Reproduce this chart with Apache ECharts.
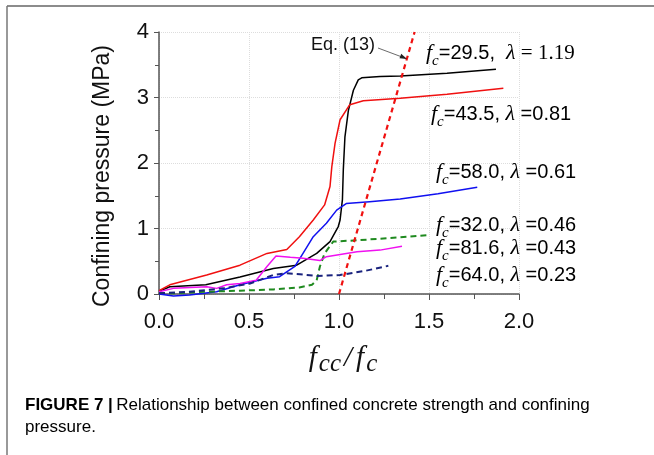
<!DOCTYPE html>
<html>
<head>
<meta charset="utf-8">
<script src="https://cdn.jsdelivr.net/npm/echarts/dist/echarts.min.js"></script>
<style>
  html, body { margin: 0; padding: 0; background: #fff; }
  #chart { width: 654px; height: 455px; }
</style>
</head>
<body>
<div id="chart"></div>
<script>
// fcc/fc (x) vs confining pressure in MPa (y)
const black_x = [0, 0.06, 0.26, 0.45, 0.635, 0.765, 0.876, 0.95, 0.996, 1.006, 1.019, 1.024, 1.033, 1.052, 1.08, 1.107, 1.126, 1.228, 1.34, 1.6, 1.872];
const black_y = [0.04, 0.11, 0.14, 0.26, 0.39, 0.44, 0.62, 0.8, 1.03, 1.13, 1.44, 1.9, 2.4, 2.8, 3.11, 3.27, 3.3, 3.32, 3.33, 3.37, 3.43];

const red_x = [0, 0.06, 0.265, 0.45, 0.6, 0.71, 0.78, 0.857, 0.92, 0.95, 0.96, 0.978, 1.006, 1.06, 1.135, 1.34, 1.6, 1.913];
const red_y = [0.05, 0.14, 0.29, 0.44, 0.62, 0.68, 0.875, 1.13, 1.36, 1.64, 1.94, 2.3, 2.66, 2.89, 2.95, 2.99, 3.05, 3.14];

const blue_x = [0, 0.08, 0.17, 0.32, 0.45, 0.6, 0.67, 0.755, 0.8, 0.857, 0.93, 0.987, 1.04, 1.17, 1.34, 1.55, 1.768];
const blue_y = [0, -0.03, -0.015, 0.035, 0.14, 0.24, 0.265, 0.42, 0.62, 0.875, 1.08, 1.28, 1.38, 1.41, 1.45, 1.53, 1.63];

const green_x = [0, 0.08, 0.265, 0.45, 0.635, 0.78, 0.85, 0.876, 0.894, 0.92, 0.968, 1.1, 1.34, 1.506];
const green_y = [0.02, 0.01, 0.035, 0.05, 0.07, 0.1, 0.14, 0.21, 0.42, 0.62, 0.8, 0.82, 0.865, 0.9];

const magenta_x = [0, 0.08, 0.265, 0.32, 0.376, 0.45, 0.54, 0.6, 0.65, 0.73, 0.8, 0.894, 0.93, 1.1, 1.228, 1.35];
const magenta_y = [0.035, 0.086, 0.11, 0.086, 0.14, 0.16, 0.21, 0.42, 0.58, 0.56, 0.545, 0.51, 0.57, 0.646, 0.67, 0.73];

const navy_x = [0, 0.17, 0.357, 0.506, 0.635, 0.71, 0.783, 0.876, 1.006, 1.15, 1.274];
const navy_y = [0.01, 0.035, 0.086, 0.16, 0.29, 0.315, 0.3, 0.275, 0.29, 0.356, 0.43];

const eq13_x = [1.0, 1.42];
const eq13_y = [0, 4];

// labels next to curves: [fc, lambda]
const fc_vals = ["29.5", "43.5", "58.0", "32.0", "81.6", "64.0"];
const lambda_vals = ["1.19", "0.81", "0.61", "0.46", "0.43", "0.23"];

const pair = (xs, ys) => xs.map((v, i) => [v, ys[i]]);

const chart = echarts.init(document.getElementById("chart"));

const SANS = "Liberation Sans";
const SERIF = "Liberation Serif";

function lineSeries(name, xs, ys, color, type) {
  return {
    name: name,
    type: "line",
    data: pair(xs, ys),
    showSymbol: false,
    clip: false,
    smooth: false,
    lineStyle: { color: color, width: type == "solid" ? 1.5 : 2, type: type == "solid" ? "solid" : [6, 4] },
    z: 3
  };
}

const richLabel = {
  f: { fontFamily: SERIF, fontStyle: "italic", fontSize: 22, lineHeight: 24, verticalAlign: "top", color: "#111" },
  c: { fontFamily: SERIF, fontStyle: "italic", fontSize: 15, lineHeight: 15, padding: [12, 0, 0, 0], verticalAlign: "top", color: "#111" },
  t: { fontFamily: SANS, fontSize: 20, lineHeight: 24, verticalAlign: "top", color: "#111", padding: [1, 0, 0, 0] },
  l: { fontFamily: SERIF, fontStyle: "italic", fontSize: 22, lineHeight: 24, verticalAlign: "top", color: "#111" },
  s: { fontFamily: SERIF, fontSize: 21, lineHeight: 24, verticalAlign: "top", color: "#111", padding: [1, 0, 0, 0] }
};

// label anchor positions (left, top) in px
const labelPos = [[426, 42], [431, 103], [436, 161], [436, 214], [436, 237], [436, 264]];

const labels = fc_vals.map((fc, i) => ({
  type: "text",
  left: labelPos[i][0],
  top: labelPos[i][1],
  style: {
    text: i == 0
      ? `{f|f}{c|c}{t|=${fc},  }{l|λ}{s| = ${lambda_vals[i]}}`
      : `{f|f}{c|c}{t|=${fc}, }{l|λ}{t| =${lambda_vals[i]}}`,
    rich: richLabel
  },
  z: 10
}));

chart.setOption({
  animation: false,
  backgroundColor: "#fff",
  grid: { left: 159, right: 135, top: 32, bottom: 161 },
  xAxis: {
    type: "value",
    min: 0,
    max: 2,
    interval: 0.5,
    name: "{f|f}{c|cc}{s|/}{f|f}{c|c}",
    nameLocation: "middle",
    nameGap: 50,
    nameTextStyle: {
      padding: [0, 0, 0, 8],
      rich: {
        f: { fontFamily: SERIF, fontStyle: "italic", fontSize: 29, lineHeight: 30, verticalAlign: "top", color: "#111" },
        s: { fontFamily: SERIF, fontStyle: "italic", fontSize: 29, lineHeight: 30, verticalAlign: "top", color: "#111", padding: [0, 4, 0, 3] },
        c: { fontFamily: SERIF, fontStyle: "italic", fontSize: 25, lineHeight: 25, padding: [8, 0, 0, 2], verticalAlign: "top", color: "#111" }
      }
    },
    axisLine: { lineStyle: { color: "#555", width: 1.5 } },
    axisTick: { show: true, inside: false, length: 6, lineStyle: { color: "#555" } },
    minorTick: { show: true, splitNumber: 2, length: 5, lineStyle: { color: "#555" } },
    axisLabel: { fontFamily: SANS, fontSize: 22, color: "#111", margin: 17, formatter: v => v.toFixed(1) },
    splitLine: { show: true, lineStyle: { color: "#ddd", type: "dotted", width: 1 } }
  },
  yAxis: {
    type: "value",
    min: 0,
    max: 4,
    interval: 1,
    axisLine: { show: true, lineStyle: { color: "#555", width: 1.5 } },
    axisTick: { show: true, inside: false, length: 5, lineStyle: { color: "#555" } },
    minorTick: { show: true, splitNumber: 2, length: 4, lineStyle: { color: "#555" } },
    axisLabel: { fontFamily: SANS, fontSize: 22, color: "#111", margin: 10 },
    splitLine: { show: true, lineStyle: { color: "#ddd", type: "dotted", width: 1 } }
  },
  series: [
    lineSeries("29.5", black_x, black_y, "#000000", "solid"),
    lineSeries("43.5", red_x, red_y, "#f01010", "solid"),
    lineSeries("58.0", blue_x, blue_y, "#1010f0", "solid"),
    lineSeries("32.0", green_x, green_y, "#1f8a1f", "dashed"),
    lineSeries("81.6", magenta_x, magenta_y, "#f010f0", "solid"),
    lineSeries("64.0", navy_x, navy_y, "#1a237e", "dashed"),
    {
      name: "Eq. (13)",
      type: "line",
      data: pair(eq13_x, eq13_y),
      showSymbol: false,
      clip: false,
      lineStyle: { color: "#f01010", width: 2.2, type: [5, 4] },
      z: 4
    }
  ],
  graphic: [
    // figure frame
    { type: "line", shape: { x1: 7, y1: 6, x2: 654, y2: 6 }, style: { stroke: "#666", lineWidth: 1.5 } },
    { type: "line", shape: { x1: 7, y1: 6, x2: 7, y2: 455 }, style: { stroke: "#777", lineWidth: 1.5 } },
    // y axis title
    {
      type: "text",
      x: 103,
      y: 176,
      rotation: Math.PI / 2,
      style: { text: "Confining pressure (MPa)", fontFamily: SANS, fontSize: 23, fill: "#111", align: "center", verticalAlign: "middle" }
    },
    // Eq. (13) callout
    { type: "text", left: 311, top: 36, style: { text: "Eq. (13)", fontFamily: SANS, fontSize: 18, fill: "#111" }, z: 10 },
    { type: "line", shape: { x1: 378, y1: 48, x2: 406, y2: 58.5 }, style: { stroke: "#444", lineWidth: 0.8 }, z: 10 },
    { type: "polygon", shape: { points: [[407, 59], [399.5, 58.2], [401.2, 53.8]] }, style: { fill: "#222" }, z: 10 },
    ...labels,
    // caption
    {
      type: "text",
      left: 25,
      top: 397,
      style: {
        text: "{b|FIGURE 7 |} {r|Relationship between confined concrete strength and confining}\n{r|pressure.}",
        rich: {
          b: { fontFamily: SANS, fontWeight: "bold", fontSize: 17, lineHeight: 22, color: "#1a1a1a" },
          r: { fontFamily: SANS, fontSize: 17, lineHeight: 22, color: "#3c3c3c" }
        }
      }
    }
  ]
});
</script>
</body>
</html>
